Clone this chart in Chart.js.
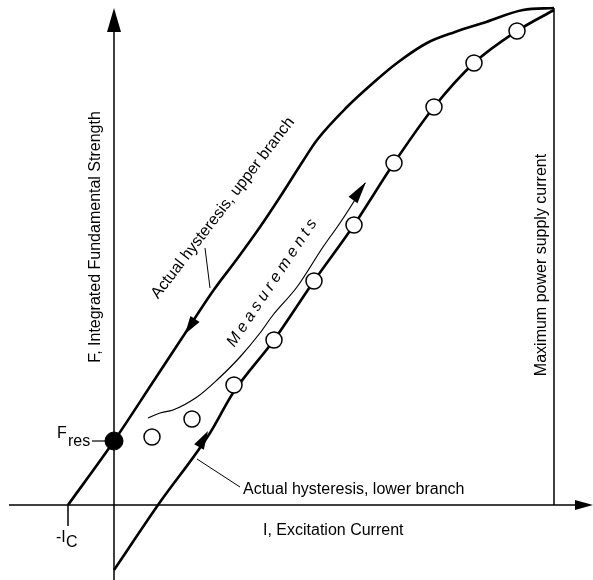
<!DOCTYPE html>
<html>
<head>
<meta charset="utf-8">
<script src="https://cdn.jsdelivr.net/npm/chart.js@4/dist/chart.umd.min.js"></script>
<style>
  html, body { margin: 0; padding: 0; background: #fff; }
  #wrap { width: 593px; height: 580px; }
</style>
</head>
<body>
<div id="wrap"><canvas id="c" width="593" height="580"></canvas></div>
<script>
// Excitation current I (arbitrary units) and integrated strength F (arbitrary units)

// Actual hysteresis, upper (descending) branch
const upperI = [-46, 0, 39, 66, 99, 123, 146, 166, 189, 203, 233, 259, 283, 313, 341, 369, 409, 440];
const upperF = [0, 64, 123, 164, 214, 246, 278, 308, 344, 365, 398, 422, 442, 462, 473, 482, 495, 497];

// Actual hysteresis, lower (ascending) branch
const lowerI = [0, 44, 96, 119, 160, 200, 240, 280, 320, 360, 403, 440];
const lowerF = [-65, 0, 72, 112, 165, 224, 280, 342, 398, 442, 474, 495];

// Measured points
const measI = [38, 78, 120, 160, 200, 240, 280, 320, 360, 403];
const measF = [68, 86, 120, 165, 224, 280, 342, 398, 442, 474];

// Trend of the measurements sequence
const trendI = [34, 46, 59, 83, 103, 126, 146, 159, 183, 209, 226, 239, 251];
const trendF = [87, 92, 95, 108, 125, 148, 172, 190, 218, 258, 282, 302, 322];

// Residual strength at zero current, coercive current, maximum supply current
const fRes = 64;
const iCoercive = -46;
const iMax = 440;
const fMaxLine = 497;

// Axis extents
const axisI = [-105, 470];
const axisF = [-75, 480];

const pts = (xs, ys) => xs.map((x, i) => ({ x, y: ys[i] }));
const FONT = "'Liberation Sans', Arial, Helvetica, sans-serif";

const lineDs = (data, width, extra) => Object.assign({
  data, showLine: true, borderColor: '#000', borderWidth: width,
  pointRadius: 0, fill: false, tension: 0, order: 2
}, extra || {});

const overlay = {
  id: 'overlay',
  afterDatasetsDraw(chart) {
    const ctx = chart.ctx;
    const xs = chart.scales.x, ys = chart.scales.y;
    const px = v => xs.getPixelForValue(v);
    const py = v => ys.getPixelForValue(v);

    const arrow = (tip, back, halfW) => {
      const tx = px(tip[0]), ty = py(tip[1]);
      const bx = px(back[0]), by = py(back[1]);
      const dx = tx - bx, dy = ty - by;
      const L = Math.hypot(dx, dy);
      const nx = -dy / L, ny = dx / L;
      ctx.beginPath();
      ctx.moveTo(tx, ty);
      ctx.lineTo(bx + nx * halfW, by + ny * halfW);
      ctx.lineTo(bx - nx * halfW, by - ny * halfW);
      ctx.closePath();
      ctx.fill();
    };
    const seg = (a, b, w) => {
      ctx.lineWidth = w;
      ctx.beginPath();
      ctx.moveTo(px(a[0]), py(a[1]));
      ctx.lineTo(px(b[0]), py(b[1]));
      ctx.stroke();
    };
    const text = (s, at, opts) => {
      opts = opts || {};
      ctx.save();
      ctx.font = (opts.style || '') + ' 16px ' + FONT;
      ctx.textAlign = opts.align || 'left';
      ctx.textBaseline = opts.baseline || 'alphabetic';
      ctx.translate(px(at[0]), py(at[1]));
      if (opts.angle) ctx.rotate(opts.angle * Math.PI / 180);
      ctx.fillText(s, 0, 0);
      ctx.restore();
    };
    const spaced = (s, at, angle, gap, style) => {
      ctx.save();
      ctx.font = style + ' 16px ' + FONT;
      ctx.textBaseline = 'middle';
      ctx.textAlign = 'left';
      ctx.translate(px(at[0]), py(at[1]));
      ctx.rotate(angle * Math.PI / 180);
      const widths = [...s].map(ch => ctx.measureText(ch).width);
      const total = widths.reduce((a, b) => a + b, 0) + gap * (s.length - 1);
      let x = -total / 2;
      [...s].forEach((ch, i) => { ctx.fillText(ch, x, 0); x += widths[i] + gap; });
      ctx.restore();
    };

    ctx.save();
    ctx.fillStyle = '#000';
    ctx.strokeStyle = '#000';

    // axis arrowheads
    arrow([479, 0], [461, 0], 5);
    arrow([0, 497], [0, 473], 7);

    // branch and sequence direction arrows
    arrow([71, 171], [81, 186], 5.5);
    arrow([94, 74], [85, 58], 5.5);
    arrow([252, 323], [239, 305], 5.5);

    // leader lines and tick
    seg([91, 257], [96, 217], 1);
    seg([83, 46], [126, 18], 1);
    seg([-22, fRes], [-8, fRes], 1.2);
    seg([iCoercive, 0], [iCoercive, -21], 1.5);

    // labels
    text('F, Integrated Fundamental Strength', [-18, 268], { align: 'center', baseline: 'middle', angle: -90 });
    text('Maximum power supply current', [428, 240], { align: 'center', baseline: 'middle', angle: -90 });
    text('I, Excitation Current', [149, -30]);
    text('Actual hysteresis, lower branch', [129, 11]);
    text('Actual hysteresis, upper branch', [109, 297], { align: 'center', baseline: 'middle', angle: -52.4 });
    spaced('Measurements', [158, 222], -56.4, 4, 'italic');
    text('F', [-57, 67]);
    text('res', [-46, 59]);
    text('-I', [-58, -37]);
    text('C', [-48, -42]);

    ctx.restore();
  }
};

new Chart(document.getElementById('c'), {
  type: 'scatter',
  data: {
    datasets: [
      { data: pts(measI, measF), pointRadius: 8, pointHoverRadius: 8,
        pointBackgroundColor: '#fff', pointBorderColor: '#000', pointBorderWidth: 1.5,
        showLine: false, order: 0 },
      { data: [{ x: 0, y: fRes }], pointRadius: 9, pointHoverRadius: 9,
        pointBackgroundColor: '#000', pointBorderColor: '#000', pointBorderWidth: 1,
        showLine: false, order: 0 },
      lineDs(pts(upperI, upperF), 2.6, { cubicInterpolationMode: 'monotone' }),
      lineDs(pts(lowerI, lowerF), 2.6, { cubicInterpolationMode: 'monotone' }),
      lineDs(pts(trendI, trendF), 1.2, { cubicInterpolationMode: 'monotone' }),
      lineDs([{ x: axisI[0], y: 0 }, { x: axisI[1], y: 0 }], 1.5),
      lineDs([{ x: 0, y: axisF[0] }, { x: 0, y: axisF[1] }], 1.5),
      lineDs([{ x: iMax, y: 0 }, { x: iMax, y: fMaxLine }], 1.5)
    ]
  },
  options: {
    responsive: false,
    animation: false,
    events: [],
    layout: { padding: 0, autoPadding: false },
    plugins: { legend: { display: false }, tooltip: { enabled: false } },
    scales: {
      x: { type: 'linear', min: -114, max: 479, display: false },
      y: { type: 'linear', min: -75, max: 505, display: false }
    }
  },
  plugins: [overlay]
});
</script>
</body>
</html>
